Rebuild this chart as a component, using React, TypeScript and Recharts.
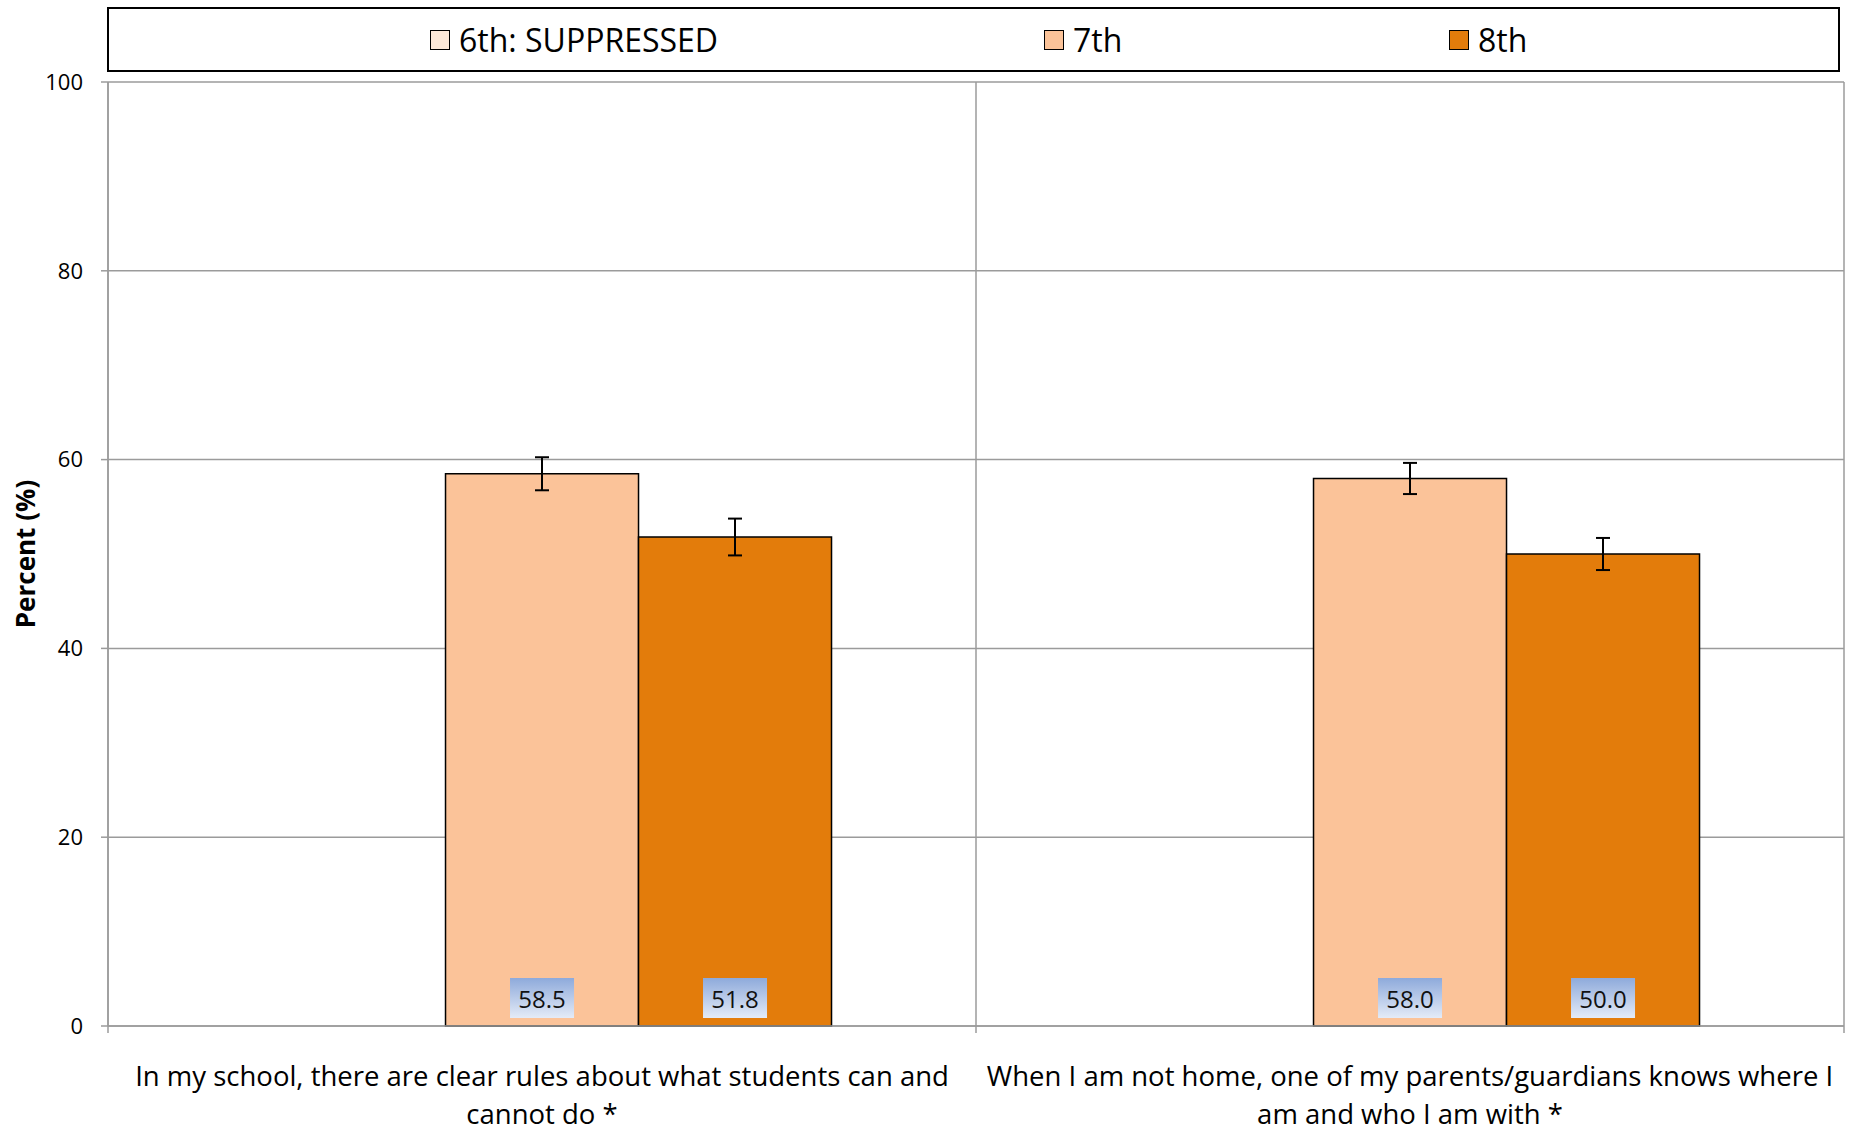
import React from "react";
import { BarChart, Bar, XAxis, YAxis, CartesianGrid, ErrorBar, LabelList } from "recharts";

const categories = [
  "In my school, there are clear rules about what students can and cannot do *",
  "When I am not home, one of my parents/guardians knows where I am and who I am with *",
];
const grade6: (number | null)[] = [null, null];
const grade7 = [58.5, 58.0];
const grade8 = [51.8, 50.0];
const err7 = [1.75, 1.65];
const err8 = [1.95, 1.7];
const yTicks = [0, 20, 40, 60, 80, 100];

const series = [
  { key: "g6", name: "6th: SUPPRESSED", color: "#FDE9D9" },
  { key: "g7", name: "7th", color: "#FBC399" },
  { key: "g8", name: "8th", color: "#E37C0B" },
];
const legendLeft = [321, 935, 1340];

const FONT = "'Open Sans', sans-serif";
const GRID = "#9b9b9b";
const X_FONT_SIZE = 27.5;

// chart layout
const CHART_W = 1858;
const CHART_H = 1131;
const Y_W = 108;
const MARGIN = { top: 82, right: 14, bottom: 0, left: 0 };
const BAND = (CHART_W - Y_W - MARGIN.right - MARGIN.left) / categories.length;

const data = categories.map((c, i) => ({
  category: c,
  g6: grade6[i],
  g7: grade7[i],
  g8: grade8[i],
  e7: err7[i],
  e8: err8[i],
}));

// word wrap using canvas text metrics
function wrapText(text: string, maxWidth: number, font: string): string[] {
  const ctx = document.createElement("canvas").getContext("2d");
  if (!ctx) return [text];
  ctx.font = font;
  const words = text.split(" ");
  const lines: string[] = [];
  let cur = "";
  for (const w of words) {
    const next = cur ? cur + " " + w : w;
    if (cur && ctx.measureText(next).width > maxWidth) {
      lines.push(cur);
      cur = w;
    } else {
      cur = next;
    }
  }
  if (cur) lines.push(cur);
  return lines;
}

function CategoryTick(props: any) {
  const { x, y, payload, index } = props;
  const half = BAND / 2;
  const lines = wrapText(String(payload.value), BAND - 8, `${X_FONT_SIZE}px ${FONT}`);
  return (
    <g>
      <line x1={x - half} y1={y} x2={x - half} y2={y + 7} stroke={GRID} strokeWidth={1.5} />
      {index === categories.length - 1 && (
        <line x1={x + half} y1={y} x2={x + half} y2={y + 7} stroke={GRID} strokeWidth={1.5} />
      )}
      <text x={x} y={y + 60} textAnchor="middle" fontSize={X_FONT_SIZE} fontFamily={FONT} fill="#000">
        {lines.map((l, i) => (
          <tspan key={i} x={x} dy={i === 0 ? 0 : 38}>
            {l}
          </tspan>
        ))}
      </text>
    </g>
  );
}

function ValueBox(props: any) {
  const { x, y, width, height, value } = props;
  if (value == null) return null;
  const cx = x + width / 2;
  const bottom = y + height - 8;
  return (
    <g>
      <rect x={cx - 32} y={bottom - 40} width={64} height={40} fill="url(#labelGrad)" />
      <text
        x={cx}
        y={bottom - 20}
        textAnchor="middle"
        dominantBaseline="central"
        fontSize={24}
        fontFamily={FONT}
        fill="#111"
      >
        {Number(value).toFixed(1)}
      </text>
    </g>
  );
}

export default function App() {
  return (
    <div style={{ position: "absolute", left: 0, top: 0, width: CHART_W, height: CHART_H, background: "#fff" }}>
      <BarChart
        width={CHART_W}
        height={CHART_H}
        data={data}
        margin={MARGIN}
        barCategoryGap="16.65%"
        barGap={0}
      >
        <defs>
          <linearGradient id="labelGrad" x1="0" y1="0" x2="0" y2="1">
            <stop offset="0%" stopColor="#8eaadb" />
            <stop offset="100%" stopColor="#e4ebf7" />
          </linearGradient>
        </defs>
        <CartesianGrid
          stroke={GRID}
          strokeWidth={1.5}
          verticalCoordinatesGenerator={({ offset }: any) =>
            categories.map((_, i) => offset.left + (offset.width * i) / categories.length).concat(offset.left + offset.width)
          }
        />
        <XAxis
          dataKey="category"
          height={105}
          axisLine={{ stroke: GRID, strokeWidth: 1.5 }}
          tickLine={false}
          tickSize={0}
          tickMargin={0}
          interval={0}
          tick={<CategoryTick />}
        />
        <YAxis
          width={Y_W}
          domain={[0, 100]}
          ticks={yTicks}
          axisLine={{ stroke: GRID, strokeWidth: 1.5 }}
          tickLine={{ stroke: GRID, strokeWidth: 1.5 }}
          tickSize={7}
          tickMargin={18}
          tick={{ fontSize: 22, fontFamily: FONT, fill: "#000" }}
          label={({ viewBox }: any) => (
            <text
              transform={`translate(${viewBox.x + 25}, ${viewBox.y + viewBox.height / 2}) rotate(-90)`}
              textAnchor="middle"
              dominantBaseline="central"
              fontSize={26}
              fontWeight="bold"
              fontFamily={FONT}
              fill="#000"
            >
              Percent (%)
            </text>
          )}
        />
        <Bar dataKey="g6" name={series[0].name} fill={series[0].color} stroke="#000" strokeWidth={1.5} isAnimationActive={false} />
        <Bar dataKey="g7" name={series[1].name} fill={series[1].color} stroke="#000" strokeWidth={1.5} isAnimationActive={false}>
          <ErrorBar dataKey="e7" width={7} stroke="#000" strokeWidth={2} direction="y" />
          <LabelList dataKey="g7" content={<ValueBox />} />
        </Bar>
        <Bar dataKey="g8" name={series[2].name} fill={series[2].color} stroke="#000" strokeWidth={1.5} isAnimationActive={false}>
          <ErrorBar dataKey="e8" width={7} stroke="#000" strokeWidth={2} direction="y" />
          <LabelList dataKey="g8" content={<ValueBox />} />
        </Bar>
      </BarChart>
      <div
        style={{
          position: "absolute",
          left: 107,
          top: 7,
          width: 1733,
          height: 65,
          border: "2px solid #000",
          boxSizing: "border-box",
          background: "#fff",
          fontFamily: FONT,
        }}
      >
        {series.map((s, i) => (
          <div
            key={s.key}
            style={{ position: "absolute", left: legendLeft[i], top: 0, height: "100%", display: "flex", alignItems: "center" }}
          >
            <span
              style={{
                display: "inline-block",
                width: 20,
                height: 20,
                background: s.color,
                border: "1.5px solid #000",
                boxSizing: "border-box",
              }}
            />
            <span style={{ fontSize: 32, marginLeft: 9, color: "#000", lineHeight: 1 }}>{s.name}</span>
          </div>
        ))}
      </div>
    </div>
  );
}
